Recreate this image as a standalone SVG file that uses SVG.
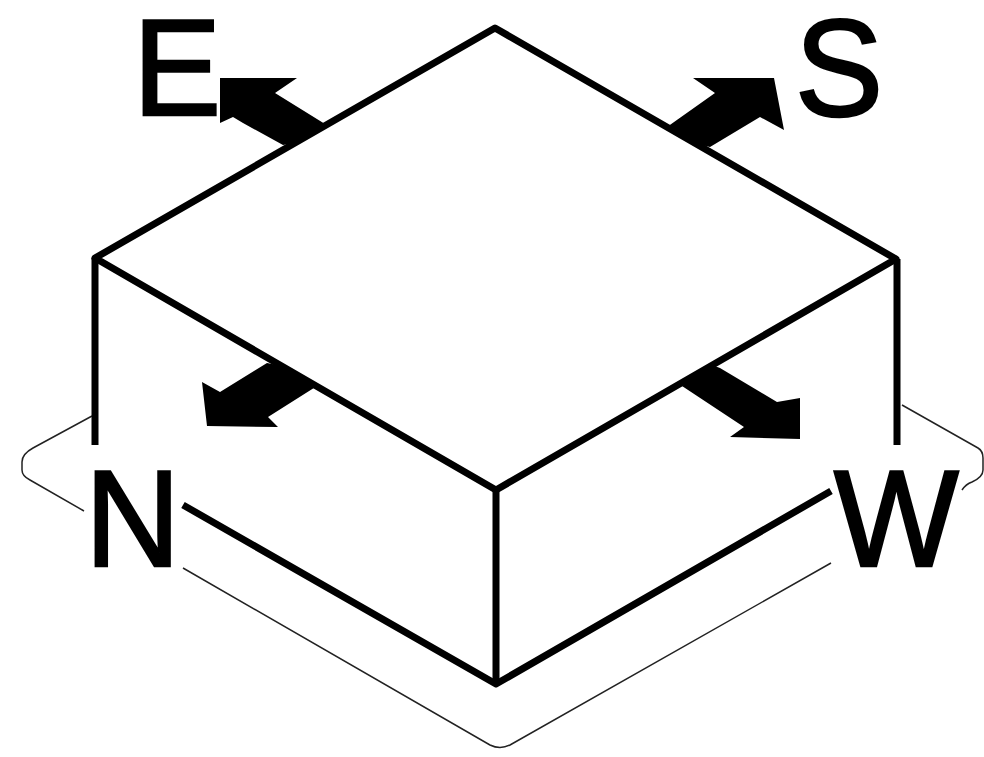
<svg xmlns="http://www.w3.org/2000/svg" width="984" height="757" viewBox="0 0 984 757">
<style>
.e{fill:none;stroke:#000;stroke-width:7;stroke-linejoin:round}
.t{fill:none;stroke:#222;stroke-width:1.5}
.a{fill:#000}
text{font-family:"Liberation Sans",Arial,sans-serif;font-size:132px;fill:#000;stroke:#000;stroke-width:2.5}
</style>
<rect width="984" height="757" fill="#fff"/>
<g id="plane">
<path class="t" d="M92 416L33 448Q22 454 22 462V470Q22 476 30 480L84 511M183 568L490 745Q500 750 510 745L831 563M902 405L978 448Q983 451 983 458V470Q983 477 972 482Q966 484 962 490"/>
</g>
<g id="box">
<path class="e" d="M495 28L896 259L496 490L95 258Z"/>
<path class="e" d="M95 258V445M897 259V445M496 490V684"/>
<path class="e" d="M183 505L496 684L831 491"/>
</g>
<g id="arrow-e"><path class="a" d="M220 78L297 78L275 93L325 124L295 143L283 145L243 123L233 117L220 123Z"/></g>
<g id="arrow-s"><path class="a" d="M693 78L774 78L784 130L760 117L710 147L697 144L667 127L715 93Z"/></g>
<g id="arrow-n"><path class="a" d="M267 363L282 366L317 386L268 417L278 427L207 426L202 382L220 392Z"/></g>
<g id="arrow-w"><path class="a" d="M712 365L720 368L777 402L800 398V439L730 437L744 427L682 386Z"/></g>
<g id="label-e"><text transform="translate(133 115) scale(1 1.04)">E</text></g>
<g id="label-s"><text transform="translate(795 116) scale(1 1.04)">S</text></g>
<g id="label-n"><text transform="translate(85 566) scale(1 1.04)">N</text></g>
<g id="label-w"><text transform="translate(834 566) scale(1 1.04)">W</text></g>
</svg>
